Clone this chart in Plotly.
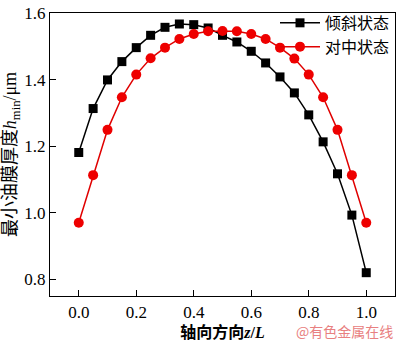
import plotly.graph_objects as go

z = [0.0, 0.05, 0.1, 0.15, 0.2, 0.25, 0.3, 0.35, 0.4, 0.45, 0.5,
     0.55, 0.6, 0.65, 0.7, 0.75, 0.8, 0.85, 0.9, 0.95, 1.0]
tilted = [1.181, 1.313, 1.399, 1.454, 1.496, 1.533, 1.557, 1.567, 1.565, 1.555, 1.533,
          1.513, 1.485, 1.450, 1.408, 1.360, 1.294, 1.213, 1.117, 0.993, 0.820]
centered = [0.970, 1.113, 1.249, 1.347, 1.415, 1.464, 1.496, 1.522, 1.537, 1.545, 1.546,
            1.545, 1.537, 1.522, 1.496, 1.463, 1.415, 1.347, 1.249, 1.113, 0.970]
names = ["倾斜状态", "对中状态"]
xticks = [0.0, 0.2, 0.4, 0.6, 0.8, 1.0]
yticks = [0.8, 1.0, 1.2, 1.4, 1.6]

FONT = "Times New Roman, Liberation Serif, Noto Sans CJK SC, serif"

fig = go.Figure()
fig.add_trace(go.Scatter(x=z, y=tilted, name=names[0], mode="lines+markers",
                         line=dict(color="black", width=1.5),
                         marker=dict(symbol="square", size=9, color="black")))
fig.add_trace(go.Scatter(x=z, y=centered, name=names[1], mode="lines+markers",
                         line=dict(color="#e00000", width=1.5),
                         marker=dict(symbol="circle", size=10, color="#ee0000")))

axis_common = dict(showline=True, linecolor="black", linewidth=1.2, mirror=True,
                   ticks="inside", ticklen=6, tickwidth=1.2, tickcolor="black",
                   showgrid=False, zeroline=False,
                   tickfont=dict(family=FONT, size=17, color="black"))

fig.update_xaxes(range=[-0.1, 1.1], tickvals=xticks, ticktext=[f"{v:.1f}" for v in xticks],
                 title=dict(text="<b>轴向方向<i>z</i>/<i>L</i></b>",
                            font=dict(family=FONT, size=16, color="black"), standoff=6),
                 **axis_common)
fig.update_yaxes(range=[0.75, 1.6], tickvals=yticks, ticktext=[f"{v:.1f}" for v in yticks],
                 title=dict(text="最小油膜厚度<i>h</i><sub>min</sub>/μm",
                            font=dict(family=FONT, size=18, color="black"), standoff=2),
                 **axis_common)

fig.update_layout(
    width=400, height=343,
    margin=dict(l=50, r=4, t=8, b=45),
    plot_bgcolor="white", paper_bgcolor="white",
    showlegend=True,
    legend=dict(x=1.0, y=1.025, xanchor="right", yanchor="top",
                bgcolor="rgba(0,0,0,0)", font=dict(family=FONT, size=16, color="black"),
                itemwidth=40, tracegroupgap=0),
    annotations=[dict(text="@有色金属在线", xref="paper", yref="paper", x=1.0, y=-0.125,
                      xanchor="right", yanchor="middle", showarrow=False,
                      font=dict(family="Noto Sans CJK SC", size=14, color="#e88080"))],
)

fig.write_html("out.html")
